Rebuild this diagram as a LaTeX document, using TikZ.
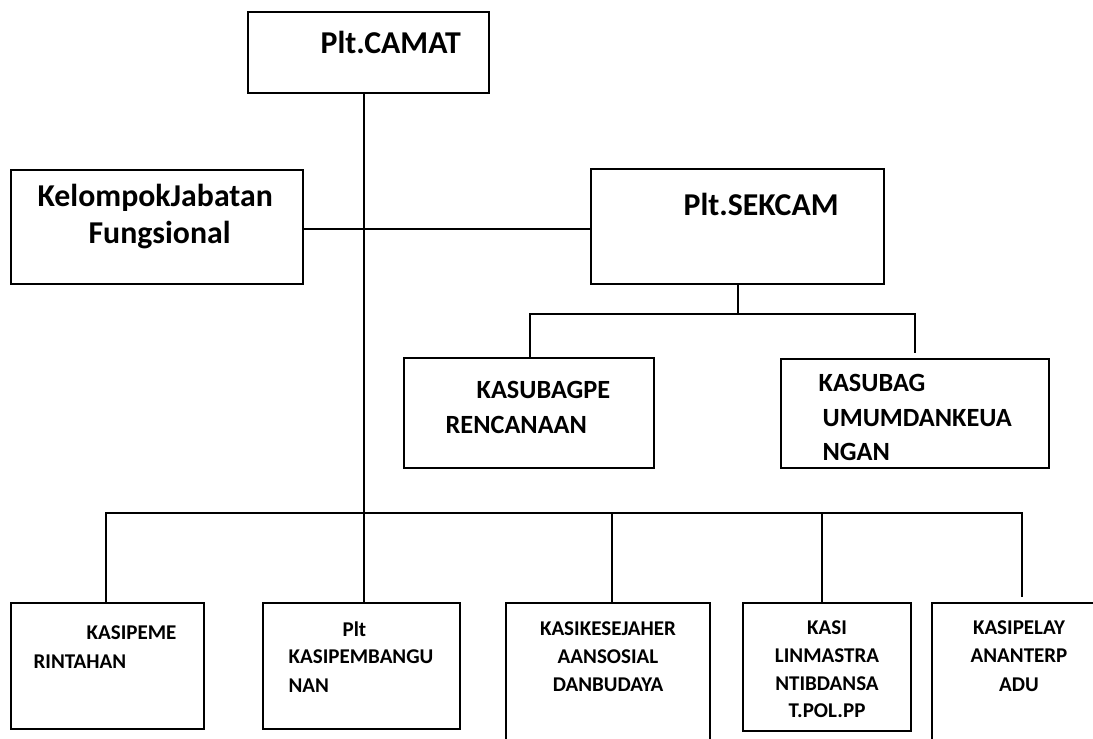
\documentclass[tikz,border=0pt]{standalone}
\usepackage{fontspec}
\setmainfont{Carlito}
\begin{document}
\begin{tikzpicture}[x=1pt,y=-1pt,line width=1.3pt,
  box/.style={draw,rectangle,inner sep=0pt,outer sep=0pt,anchor=north west},
  ttop/.style={inner sep=0pt,anchor=base west,font=\fontsize{31.8}{37}\selectfont\bfseries},
  tmid/.style={inner sep=0pt,anchor=base west,font=\fontsize{26.3}{30}\selectfont\bfseries},
  tbot/.style={inner sep=0pt,anchor=base west,font=\fontsize{21}{25}\selectfont\bfseries},
  tbotc/.style={tbot,anchor=base}]
\useasboundingbox (0,0) rectangle (1093,739);
\clip (0,0) rectangle (1093,739);
% boxes
\node[box,minimum width=241pt,minimum height=81pt] (camat) at (248,12) {};
\node[box,minimum width=292pt,minimum height=114pt] (kjf) at (11,170) {};
\node[box,minimum width=293pt,minimum height=115pt] (sekcam) at (591,169) {};
\node[box,minimum width=250pt,minimum height=110pt] (kpe) at (404,358) {};
\node[box,minimum width=268pt,minimum height=109pt] (kumum) at (781,359) {};
\node[box,minimum width=193pt,minimum height=126pt] (b1) at (11,603) {};
\node[box,minimum width=197pt,minimum height=126pt] (b2) at (263,603) {};
\node[box,minimum width=204pt,minimum height=160pt] (b3) at (506,603) {};
\node[box,minimum width=168pt,minimum height=128pt] (b4) at (743,603) {};
\node[box,minimum width=180pt,minimum height=160pt] (b5) at (932,603) {};
% texts
\node[ttop] (t1) at (320,53) {Plt.CAMAT};
\node[ttop] (t2) at (37,206) {KelompokJabatan};
\node[ttop] (t3) at (88,243) {Fungsional};
\node[ttop] (t4) at (683,215) {Plt.SEKCAM};
\node[tmid] (t5) at (476,398) {KASUBAGPE};
\node[tmid] (t6) at (445,433) {RENCANAAN};
\node[tmid] (t7) at (818,391) {KASUBAG};
\node[tmid] (t8) at (822,426) {UMUMDANKEUA};
\node[tmid] (t9) at (822,460) {NGAN};
\node[tbot] (t10) at (86,639) {KASIPEME};
\node[tbot] (t11) at (33,668) {RINTAHAN};
\node[tbot] (t12) at (342,636) {Plt};
\node[tbot] (t13) at (288,663) {KASIPEMBANGU};
\node[tbot] (t14) at (288,692) {NAN};
\node[tbotc] (t15) at (608,635) {KASIKESEJAHER};
\node[tbotc] (t16) at (608,663) {AANSOSIAL};
\node[tbotc] (t17) at (608,691) {DANBUDAYA};
\node[tbotc] (t18) at (827,634) {KASI};
\node[tbotc] (t19) at (827,662) {LINMASTRA};
\node[tbotc] (t20) at (827,690) {NTIBDANSA};
\node[tbotc] (t21) at (827,717) {T.POL.PP};
\node[tbotc] (t22) at (1019,634) {KASIPELAY};
\node[tbotc] (t23) at (1019,662) {ANANTERP};
\node[tbotc] (t24) at (1019,691) {ADU};
% connector points
\coordinate (m1) at (364,513);
\coordinate (h1) at (450,229);
\coordinate (s1) at (738,314);
\coordinate (sL) at (530,314);
\coordinate (sR) at (915,314);
\coordinate (sRend) at (915,353);
\coordinate (bL) at (106,513);
\coordinate (bR) at (1022,513);
\coordinate (bRend) at (1022,597);
\coordinate (d3) at (612,513);
\coordinate (d4) at (822,513);
% connectors
\draw (camat.south -| m1) -- (b2.north -| m1);
\draw (kjf.east |- h1) -- (sekcam.west |- h1);
\draw (sekcam.south -| s1) -- (s1);
\draw (kpe.north -| sL) -- (sL) -- (sR) -- (sRend);
\draw (b1.north -| bL) -- (bL) -- (bR) -- (bRend);
\draw (d3) -- (b3.north -| d3);
\draw (d4) -- (b4.north -| d4);
\end{tikzpicture}
\end{document}
